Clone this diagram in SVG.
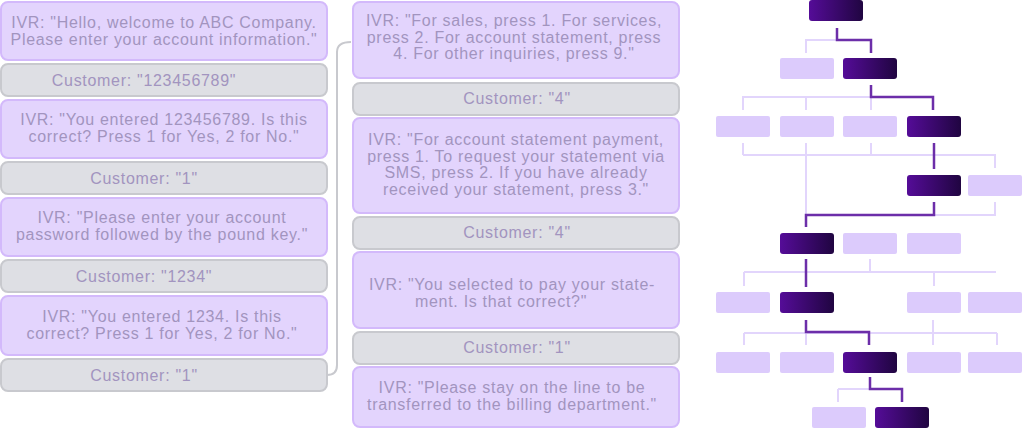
<svg xmlns="http://www.w3.org/2000/svg" width="1024" height="428" viewBox="0 0 1024 428">
<defs>
<linearGradient id="dk" x1="0" y1="0" x2="1" y2="0">
<stop offset="0" stop-color="#550c98"/>
<stop offset="1" stop-color="#200541"/>
</linearGradient>
<style>
.ivr{fill:#e3d4fd;stroke:#d3b9fb;stroke-width:2}
.cus{fill:#dedfe4;stroke:#c8c9ce;stroke-width:2}
.t{font-family:"Liberation Sans",Arial,sans-serif;font-size:16px;fill:#a294bf;text-anchor:middle;letter-spacing:0.7px}
.lt{fill:#dccbfc}
.dk{fill:url(#dk)}
.ll{fill:none;stroke:#e2d5fc;stroke-width:2}
.dl{fill:none;stroke:#6c2ea9;stroke-width:2.5}
.cn{fill:none;stroke:#c8c9ce;stroke-width:2}
</style>
</defs>
<rect width="1024" height="428" fill="#ffffff"/>
<g id="connectors">
<path class="cn" d="M327,375 Q337,375 337,365 V52 Q337,42 351,42"/>
<path class="ll" d="M806,53 V40 H837"/>
<path class="ll" d="M743,110 V97 H871 M806,97 V110 M871,97 V110"/>
<path class="ll" d="M743,143 V155 M871,143 V155 M743,155 H995 V168 M806,143 V227"/>
<path class="ll" d="M995,202 V215 H934"/>
<path class="ll" d="M870,259 V272 M744,272 H996 M744,272 V286 M934,272 V286"/>
<path class="ll" d="M933,320 V333 M744,333 H997 M744,333 V345 M806,333 V345 M933,333 V345 M997,333 V345"/>
<path class="ll" d="M838,389 H870 M838,389 V402"/>
<path class="dl" d="M837,28 V40 H871 V53"/>
<path class="dl" d="M871,85 V97 H933 V110"/>
<path class="dl" d="M934,143 V169"/>
<path class="dl" d="M934,202 V215 H806 V227"/>
<path class="dl" d="M806,259 V287"/>
<path class="dl" d="M806,320 V332 H869 V345"/>
<path class="dl" d="M870,377 V389 H902 V402"/>
</g>
<g id="l1"><rect class="ivr" x="1" y="2" width="326" height="58" rx="7"/><text class="t" x="164" y="28">IVR: "Hello, welcome to ABC Company.</text><text class="t" x="164" y="45">Please enter your account information."</text></g>
<g id="l2"><rect class="cus" x="1" y="64" width="326" height="32" rx="7"/><text class="t" x="144" y="86">Customer: "123456789"</text></g>
<g id="l3"><rect class="ivr" x="1" y="100" width="326" height="58" rx="7"/><text class="t" x="164" y="125">IVR: "You entered 123456789. Is this</text><text class="t" x="164" y="142">correct? Press 1 for Yes, 2 for No."</text></g>
<g id="l4"><rect class="cus" x="1" y="162" width="326" height="32" rx="7"/><text class="t" x="144" y="184">Customer: "1"</text></g>
<g id="l5"><rect class="ivr" x="1" y="198" width="326" height="58" rx="7"/><text class="t" x="162" y="223">IVR: "Please enter your account</text><text class="t" x="162" y="240">password followed by the pound key."</text></g>
<g id="l6"><rect class="cus" x="1" y="260" width="326" height="32" rx="7"/><text class="t" x="144" y="282">Customer: "1234"</text></g>
<g id="l7"><rect class="ivr" x="1" y="296" width="326" height="59" rx="7"/><text class="t" x="162" y="322">IVR: "You entered 1234. Is this</text><text class="t" x="162" y="339">correct? Press 1 for Yes, 2 for No."</text></g>
<g id="l8"><rect class="cus" x="1" y="359" width="326" height="32" rx="7"/><text class="t" x="144" y="381">Customer: "1"</text></g>
<g id="m1"><rect class="ivr" x="353" y="2" width="326" height="76" rx="7"/><text class="t" x="514" y="26">IVR: "For sales, press 1. For services,</text><text class="t" x="514" y="43">press 2. For account statement, press</text><text class="t" x="514" y="59">4. For other inquiries, press 9."</text></g>
<g id="m2"><rect class="cus" x="353" y="83" width="326" height="32" rx="7"/><text class="t" x="517" y="104">Customer: "4"</text></g>
<g id="m3"><rect class="ivr" x="353" y="118" width="326" height="95" rx="7"/><text class="t" x="516" y="145">IVR: "For account statement payment,</text><text class="t" x="516" y="162">press 1. To request your statement via</text><text class="t" x="516" y="178">SMS, press 2. If you have already</text><text class="t" x="516" y="195">received your statement, press 3."</text></g>
<g id="m4"><rect class="cus" x="353" y="217" width="326" height="32" rx="7"/><text class="t" x="517" y="238">Customer: "4"</text></g>
<g id="m5"><rect class="ivr" x="353" y="252" width="326" height="76" rx="7"/><text class="t" x="512" y="290">IVR: "You selected to pay your state-</text><text class="t" x="501" y="307">ment. Is that correct?"</text></g>
<g id="m6"><rect class="cus" x="353" y="332" width="326" height="32" rx="7"/><text class="t" x="517" y="353">Customer: "1"</text></g>
<g id="m7"><rect class="ivr" x="353" y="367" width="326" height="60" rx="7"/><text class="t" x="512" y="393">IVR: "Please stay on the line to be</text><text class="t" x="512" y="410">transferred to the billing department."</text></g>
<g id="t1"><rect class="dk" x="809" y="0" width="54" height="21" rx="3"/></g>
<g id="t2a"><rect class="lt" x="780" y="58" width="54" height="21" rx="2"/></g>
<g id="t2b"><rect class="dk" x="843" y="58" width="54" height="21" rx="3"/></g>
<g id="t3a"><rect class="lt" x="716" y="116" width="54" height="21" rx="2"/></g>
<g id="t3b"><rect class="lt" x="780" y="116" width="54" height="21" rx="2"/></g>
<g id="t3c"><rect class="lt" x="843" y="116" width="54" height="21" rx="2"/></g>
<g id="t3d"><rect class="dk" x="907" y="116" width="54" height="21" rx="3"/></g>
<g id="t4a"><rect class="dk" x="907" y="175" width="54" height="21" rx="3"/></g>
<g id="t4b"><rect class="lt" x="968" y="175" width="54" height="21" rx="2"/></g>
<g id="t5a"><rect class="dk" x="780" y="233" width="54" height="21" rx="3"/></g>
<g id="t5b"><rect class="lt" x="843" y="233" width="54" height="21" rx="2"/></g>
<g id="t5c"><rect class="lt" x="907" y="233" width="54" height="21" rx="2"/></g>
<g id="t6a"><rect class="lt" x="716" y="292" width="54" height="21" rx="2"/></g>
<g id="t6b"><rect class="dk" x="780" y="292" width="54" height="21" rx="3"/></g>
<g id="t6c"><rect class="lt" x="907" y="292" width="54" height="21" rx="2"/></g>
<g id="t6d"><rect class="lt" x="968" y="292" width="54" height="21" rx="2"/></g>
<g id="t7a"><rect class="lt" x="716" y="352" width="54" height="21" rx="2"/></g>
<g id="t7b"><rect class="lt" x="780" y="352" width="54" height="21" rx="2"/></g>
<g id="t7c"><rect class="dk" x="843" y="352" width="54" height="21" rx="3"/></g>
<g id="t7d"><rect class="lt" x="907" y="352" width="54" height="21" rx="2"/></g>
<g id="t7e"><rect class="lt" x="968" y="352" width="54" height="21" rx="2"/></g>
<g id="t8a"><rect class="lt" x="812" y="407" width="54" height="21" rx="2"/></g>
<g id="t8b"><rect class="dk" x="875" y="407" width="54" height="21" rx="3"/></g>
</svg>
